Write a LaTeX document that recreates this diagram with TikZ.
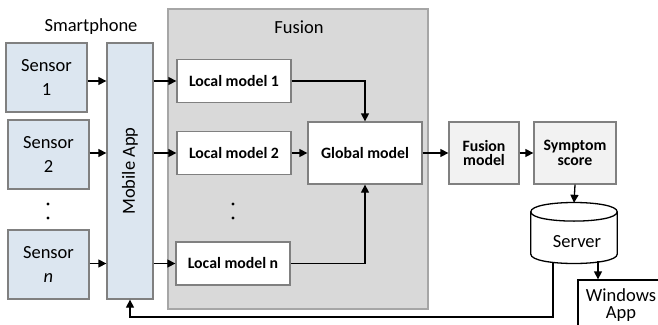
\documentclass[tikz,border=0pt]{standalone}
\usepackage{fontspec}
\setmainfont{Carlito}
\usetikzlibrary{arrows.meta,calc}
\definecolor{sensorfill}{HTML}{DCE6F0}
\definecolor{boxline}{HTML}{808080}
\definecolor{fusionbg}{HTML}{D9D9D9}
\definecolor{fusionline}{HTML}{A6A6A6}
\definecolor{lightbox}{HTML}{F2F2F2}
\tikzset{
  base/.style={draw=boxline, line width=1.3pt, align=center, inner sep=0pt},
  sensorbox/.style={base, fill=sensorfill, minimum width=81pt, minimum height=69pt,
    font=\fontsize{18.5}{24}\selectfont},
  localbox/.style={base, fill=white, minimum width=114pt, minimum height=43pt,
    font=\fontsize{15.8}{16}\selectfont\bfseries},
  greybox/.style={base, fill=lightbox, minimum height=62pt,
    font=\fontsize{15.8}{14.5}\selectfont\bfseries},
  plain/.style={font=\fontsize{18.5}{22}\selectfont},
  arr/.style={line width=1.3pt, -{Triangle[length=8pt,width=8pt]}},
  wire/.style={line width=1.3pt},
  dot/.style={circle, fill=black, inner sep=0pt, minimum size=3.4pt}
}
\begin{document}
\begin{tikzpicture}[x=1pt, y=-1pt]
\useasboundingbox (0,0) rectangle (658,324);
\clip (0,0) rectangle (658,324);

% Fusion stage background
\node[draw=fusionline, fill=fusionbg, line width=1.3pt, minimum width=260pt,
  minimum height=300pt, inner sep=0pt] (fusion) at (298,159) {};
\node[plain] (fusiontitle) at (299,27) {Fusion};
\node[plain] (phone) at (91,27) {Smartphone};

% Sensors
\node[sensorbox] (s1) at (46.5,77.5) {Sensor\\1};
\node[sensorbox] (s2) at (48.5,154.5) {Sensor\\2};
\node[sensorbox] (sn) at (48.5,264.5) {Sensor\\\textit{n}};
\node[dot] (sd1) at (48,204) {};
\node[dot] (sd2) at (48,218) {};

% Mobile app
\node[base, fill=sensorfill, minimum width=46pt, minimum height=256pt] (mob) at (130,171) {};
\node[plain, rotate=90] (mobtext) at (mob.center) {Mobile App};

% Local models
\node[localbox] (l1) at (234,81) {Local model 1};
\node[localbox] (l2) at (234,153) {Local model 2};
\node[localbox] (ln) at (233,263.5) {Local model n};
\node[dot] (ld1) at (233,204) {};
\node[dot] (ld2) at (233,218) {};

% Global and downstream
\node[base, fill=white, minimum width=114pt, minimum height=62pt,
  font=\fontsize{15.8}{16}\selectfont\bfseries] (glob) at (365,153) {Global model};
\node[greybox, minimum width=70pt] (fm) at (484,153) {Fusion\\model};
\node[greybox, minimum width=82pt] (sym) at (575,153) {Symptom\\score};

% Server cylinder
\node[minimum width=86pt, minimum height=60pt, inner sep=0pt] (srv) at (574,233) {};
\coordinate (ctl) at ($(srv.north west)+(0,9)$);
\coordinate (ctr) at ($(srv.north east)+(0,9)$);
\coordinate (cbl) at ($(srv.south west)+(0,-9)$);
\coordinate (cbr) at ($(srv.south east)+(0,-9)$);
\draw[line width=1.3pt, fill=white]
  (ctl) -- (cbl) .. controls ($(cbl)+(0,12.4)$) and ($(cbr)+(0,12.4)$) .. (cbr)
  -- (ctr) .. controls ($(ctr)+(0,-12.4)$) and ($(ctl)+(0,-12.4)$) .. (ctl) -- cycle;
\draw[line width=1.3pt] (ctl) .. controls ($(ctl)+(0,12.4)$) and ($(ctr)+(0,12.4)$) .. (ctr);
\node[plain] (srvtext) at (577,242) {Server};

% Windows app
\node[draw=black, line width=1.3pt, fill=white, minimum width=86pt, minimum height=50pt,
  inner sep=0pt, align=center, font=\fontsize{18.5}{17}\selectfont] (win) at (621,305)
  {Windows\\App};

% Connectors
\draw[arr] (s1.east |- l1) -- (mob.west |- l1);
\draw[arr] (s2.east |- l2) -- (mob.west |- l2);
\draw[arr] (sn.east |- ln) -- (mob.west |- ln);
\draw[arr] (mob.east |- l1) -- (l1.west);
\draw[arr] (mob.east |- l2) -- (l2.west);
\draw[arr] (mob.east |- ln) -- (ln.west);
\draw[arr] (l1.east) -| (glob.north);
\draw[arr] (l2.east) -- (glob.west);
\draw[arr] (ln.east) -| (glob.south);
\draw[arr] (glob.east) -- (fm.west);
\draw[arr] (fm.east) -- (sym.west);
\draw[arr] (sym.south) -- (srv.north);
\coordinate (srvout) at (598,261);
\draw[arr] (srvout) -- (srvout |- win.north);
\coordinate (fbtop) at (553,262);
\coordinate (fbcorner) at (553,317);
\draw[arr] (fbtop) -- (fbcorner) -| (mob.south);
\end{tikzpicture}
\end{document}
